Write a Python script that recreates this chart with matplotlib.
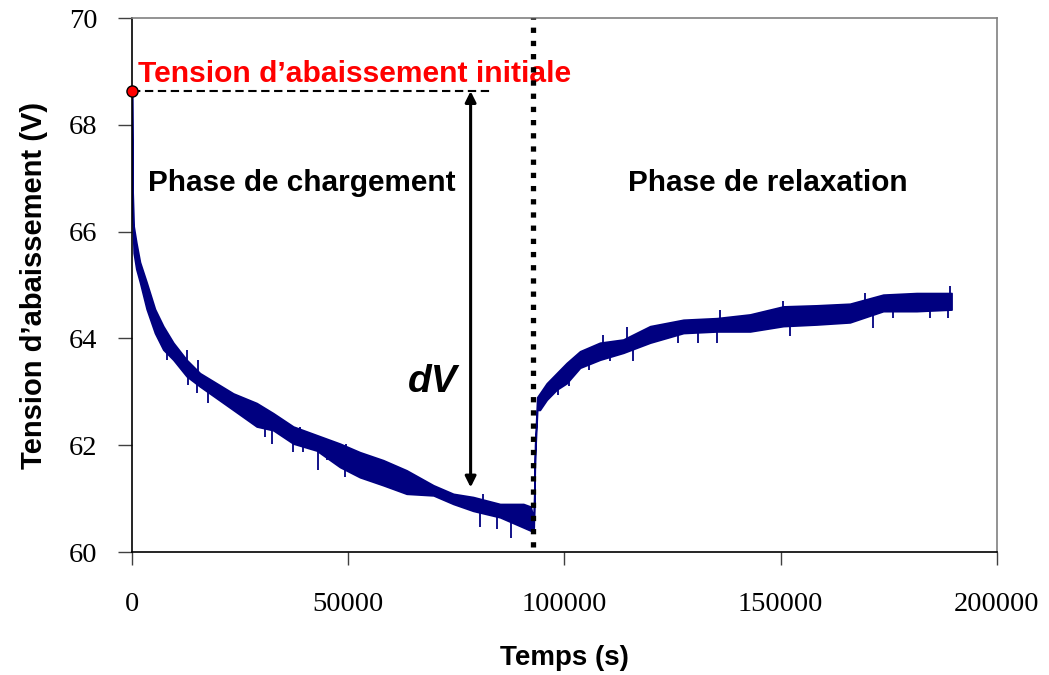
import numpy as np
import matplotlib
matplotlib.use("Agg")
from matplotlib import pyplot as plt

# enveloppe du signal (bas / haut), en s et V
temps = [0, 100, 400, 1000, 1850, 3390, 5320, 7240, 9560, 12640, 15720,
         19580, 23430, 28830, 32670, 37300, 42700, 48100, 52700, 58100,
         63500, 69700, 74300, 78900, 85100, 90500, 92200, 92900, 93200,
         93700, 94300, 95900, 98200, 100500, 103600, 108200, 113600,
         119800, 127500, 135200, 142900, 150600, 158300, 166000, 173700,
         181400, 189500]
v_bas = [68.63, 66.3, 65.6, 65.3, 65.05, 64.55, 64.1, 63.79, 63.6, 63.29,
         63.1, 62.88, 62.66, 62.35, 62.28, 62.03, 61.9, 61.59, 61.4, 61.25,
         61.09, 61.06, 60.9, 60.77, 60.65, 60.46, 60.4, 60.45, 61.8,
         62.66, 62.66, 62.85, 63.04, 63.16, 63.45, 63.6, 63.73,
         63.92, 64.1, 64.13, 64.13, 64.23, 64.26, 64.3, 64.51,
         64.51, 64.54]
v_haut = [68.63, 66.9, 66.1, 65.8, 65.43, 65.05, 64.55, 64.23, 63.92, 63.6,
          63.35, 63.16, 62.97, 62.79, 62.6, 62.35, 62.19, 62.03, 61.87, 61.72,
          61.53, 61.25, 61.09, 61.03, 60.9, 60.9, 60.85, 60.6, 62.0,
          62.9, 62.97, 63.16, 63.35, 63.54, 63.76, 63.92, 63.98,
          64.23, 64.35, 64.38, 64.45, 64.6, 64.62, 64.65, 64.82,
          64.85, 64.85]

# pics de bruit visibles (instant, valeur extreme)
pic_t = [8000, 13000, 14950, 17650, 30750, 32300, 37300, 39600, 43100,
         45000, 49250, 57300, 80400, 84300, 87550,
         12640, 15330, 38800, 49600, 81200,
         98580, 101100, 105700, 110500, 115900, 126300, 130900, 135200,
         152100, 171400, 176000, 184500, 188700,
         114400, 109000, 135900, 150500, 169400, 189200]
pic_v = [63.6, 63.13, 62.97, 62.79, 62.16, 62.03, 61.87, 61.87, 61.53,
         61.72, 61.4, 61.25, 60.46, 60.43, 60.27,
         63.79, 63.6, 62.35, 62.03, 61.09,
         62.94, 63.1, 63.41, 63.57, 63.57, 63.92, 63.92, 63.92,
         64.04, 64.2, 64.38, 64.38, 64.38,
         64.22, 64.06, 64.54, 64.7, 64.85, 64.98]

v_init = 68.63
t_fin_charge = 92700
t_fleche = 78300
v_fleche_bas = 61.21
t_fin_tirets = 83500

bleu = '#000080'

fig = plt.figure(figsize=(10.49, 6.75), dpi=100)
ax = fig.add_axes([0.1258, 0.1822, 0.8246, 0.7911])

ax.fill_between(temps, v_bas, v_haut, color=bleu, lw=1.2, edgecolor=bleu)
v_mil = (np.interp(pic_t, temps, v_bas) + np.interp(pic_t, temps, v_haut)) / 2
ax.vlines(pic_t, v_mil, pic_v, color=bleu, lw=1.3)

# ligne pointillee separant les deux phases
ax.plot([t_fin_charge, t_fin_charge], [60.1, 70], color='black', lw=3.8,
        linestyle=(0, (1, 1.5)), clip_on=False, zorder=4)

# tension initiale
ax.plot([0, t_fin_tirets], [v_init, v_init], color='black', lw=1.5,
        linestyle=(0, (4, 2.2)))
ax.plot([0], [v_init], 'o', color='red', mec='black', mew=1, ms=8,
        clip_on=False, zorder=5)
ax.annotate('', xy=(t_fleche, v_fleche_bas), xytext=(t_fleche, v_init),
            arrowprops=dict(arrowstyle='<|-|>', color='black', lw=2.2,
                            mutation_scale=16, shrinkA=0, shrinkB=0))

police = 'Liberation Sans'
ax.text(1400, 68.81, u'Tension d\u2019abaissement initiale', color='red',
        fontsize=21.6, fontweight='bold', family=police, va='baseline',
        zorder=3)
ax.text(39300, 66.76, 'Phase de chargement', fontsize=21.4,
        fontweight='bold', family=police, ha='center', va='baseline')
ax.text(147000, 66.76, 'Phase de relaxation', fontsize=21.4,
        fontweight='bold', family=police, ha='center', va='baseline')
ax.text(69600, 63.0, 'dV', fontsize=28, fontweight='bold', style='italic',
        family=police, ha='center', va='baseline')

ax.set_xlim(0, 200000)
ax.set_ylim(60, 70)
ax.set_xticks(np.arange(0, 200001, 50000))
ax.set_yticks(np.arange(60, 71, 2))
ax.set_xticklabels(['0', '50000', '100000', '150000', '200000'])
for lab in ax.get_xticklabels() + ax.get_yticklabels():
    lab.set_family('Liberation Serif')
    lab.set_fontsize(20.5)
ax.tick_params(axis='y', direction='out', length=10, width=1,
               color='#404040', pad=15)
ax.tick_params(axis='x', direction='out', length=9, width=1,
               color='#404040', pad=20)

ax.spines['left'].set_color('black')
ax.spines['bottom'].set_color('black')
ax.spines['top'].set_color('#808080')
ax.spines['right'].set_color('#808080')
for s in ax.spines.values():
    s.set_linewidth(1.2)

ax.set_xlabel('Temps (s)', fontsize=20, fontweight='bold', family=police)
ax.xaxis.set_label_coords(0.5, -0.175)
ax.set_ylabel(u'Tension d\u2019abaissement (V)', fontsize=21,
              fontweight='bold', family=police)
ax.yaxis.set_label_coords(-0.097, 0.5)

fig.savefig('out.png', dpi=100)
